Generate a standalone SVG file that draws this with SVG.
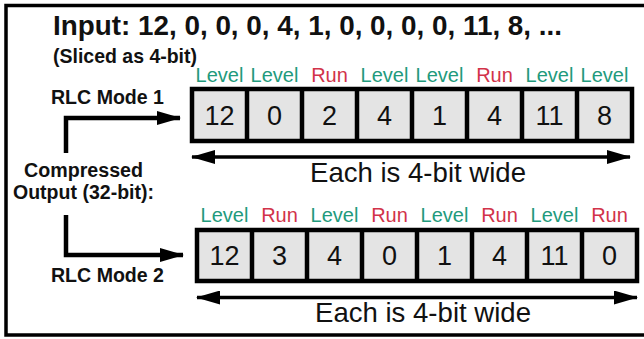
<svg xmlns="http://www.w3.org/2000/svg" width="644" height="339" viewBox="0 0 644 339">
<style>
text{font-family:"Liberation Sans",Arial,sans-serif}
.b{font-weight:bold;fill:#111}
.lv{fill:#229a7c;font-size:20px;text-anchor:middle}
.rn{fill:#d2334a;font-size:20px;text-anchor:middle}
.num{font-size:27px;text-anchor:middle;fill:#111}
.cell{fill:#e4e4e4;stroke:#000;stroke-width:4.5}
.ln{stroke:#000;fill:none}
.w{font-size:27.5px;fill:#111}
</style>
<defs>
<marker id="ah" viewBox="0 0 24 14" refX="23" refY="7" markerWidth="24" markerHeight="14" markerUnits="userSpaceOnUse" orient="auto-start-reverse"><path d="M0,0 L24,7 L0,14 Z" fill="#000"/></marker>
</defs>
<rect x="6" y="5.5" width="660" height="329.5" fill="#fff" stroke="#000" stroke-width="3.5"/>
<g id="title">
<text class="b" x="53" y="35" font-size="27.5" textLength="509" lengthAdjust="spacingAndGlyphs">Input: 12, 0, 0, 0, 4, 1, 0, 0, 0, 0, 11, 8, ...</text>
<text class="b" x="53" y="63" font-size="21" textLength="144" lengthAdjust="spacingAndGlyphs">(Sliced as 4-bit)</text>
</g>
<g id="labels-left">
<text class="b" x="51" y="104" font-size="19.5" textLength="113" lengthAdjust="spacingAndGlyphs">RLC Mode 1</text>
<text class="b" x="24" y="177" font-size="19.5" textLength="119" lengthAdjust="spacingAndGlyphs">Compressed</text>
<text class="b" x="13" y="199" font-size="19.5" textLength="141" lengthAdjust="spacingAndGlyphs">Output (32-bit):</text>
<text class="b" x="51" y="282" font-size="19.5" textLength="113" lengthAdjust="spacingAndGlyphs">RLC Mode 2</text>
</g>
<g id="connectors">
<path class="ln" stroke-width="4.5" d="M66,153 V118 H180" marker-end="url(#ah)"/>
<path class="ln" stroke-width="4.5" d="M66,215 V255 H183" marker-end="url(#ah)"/>
<path class="ln" stroke-width="3.5" d="M192,157 H630" marker-start="url(#ah)" marker-end="url(#ah)"/>
<path class="ln" stroke-width="3.5" d="M197,297.5 H637" marker-start="url(#ah)" marker-end="url(#ah)"/>
</g>
<g id="mode1">
<rect class="cell" x="192" y="89" width="440" height="52"/>
<path class="ln" stroke-width="4.5" d="M247,89V141M302,89V141M357,89V141M412,89V141M467,89V141M522,89V141M577,89V141"/>
<g class="num">
<text x="219.5" y="125">12</text><text x="274.5" y="125">0</text><text x="329.5" y="125">2</text><text x="384.5" y="125">4</text><text x="439.5" y="125">1</text><text x="494.5" y="125">4</text><text x="549.5" y="125">11</text><text x="604.5" y="125">8</text>
</g>
<text class="lv" x="219.5" y="82">Level</text><text class="lv" x="274.5" y="82">Level</text><text class="rn" x="329.5" y="82">Run</text><text class="lv" x="384.5" y="82">Level</text><text class="lv" x="439.5" y="82">Level</text><text class="rn" x="494.5" y="82">Run</text><text class="lv" x="549.5" y="82">Level</text><text class="lv" x="604.5" y="82">Level</text>
<text class="w" x="310" y="182" textLength="216" lengthAdjust="spacingAndGlyphs">Each is 4-bit wide</text>
</g>
<g id="mode2">
<rect class="cell" x="197" y="230" width="440" height="51"/>
<path class="ln" stroke-width="4.5" d="M252,230V281M307,230V281M362,230V281M417,230V281M472,230V281M527,230V281M582,230V281"/>
<g class="num">
<text x="224.5" y="265">12</text><text x="279.5" y="265">3</text><text x="334.5" y="265">4</text><text x="389.5" y="265">0</text><text x="444.5" y="265">1</text><text x="499.5" y="265">4</text><text x="554.5" y="265">11</text><text x="609.5" y="265">0</text>
</g>
<text class="lv" x="224.5" y="222">Level</text><text class="rn" x="279.5" y="222">Run</text><text class="lv" x="334.5" y="222">Level</text><text class="rn" x="389.5" y="222">Run</text><text class="lv" x="444.5" y="222">Level</text><text class="rn" x="499.5" y="222">Run</text><text class="lv" x="554.5" y="222">Level</text><text class="rn" x="609.5" y="222">Run</text>
<text class="w" x="315" y="322" textLength="216" lengthAdjust="spacingAndGlyphs">Each is 4-bit wide</text>
</g>
</svg>
